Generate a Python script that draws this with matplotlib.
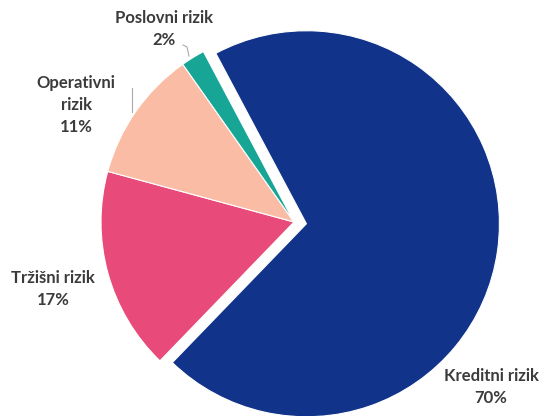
import matplotlib.pyplot as plt

labels = ['Kreditni rizik', 'Tržišni rizik', 'Operativni\nrizik', 'Poslovni rizik']
shares = [70, 17, 11, 2]
colors = ['#11338a', '#e84a7a', '#fbbca6', '#17a596']

plt.rcParams['font.family'] = ['Lato', 'DejaVu Sans']

fig = plt.figure(figsize=(5.45, 4.16), dpi=100)
ax = fig.add_axes([0, 0, 1, 1])

cx, cy, r = 294, 222, 193
# explode is in data units, so scale it with the radius
explode = [0.065 * r, 0, 0, 0]
wedges, _ = ax.pie(shares, colors=colors, explode=explode, startangle=-118,
                   counterclock=True, radius=r, center=(cx, cy),
                   wedgeprops=dict(edgecolor='white', linewidth=0.8))

ax.set_xlim(0, 545)
ax.set_ylim(416, 0)
ax.set_aspect('equal')
ax.axis('off')

# label positions (pixel coords)
pos = [(491, 387), (53, 289), (76, 105), (164, 29)]
for lab, s, (x, y) in zip(labels, shares, pos):
    ax.text(x, y, f'{lab}\n{s}%', ha='center', va='center', fontsize=12,
            fontweight='bold', color='#3b3b3b', linespacing=1.45)

# leader lines
ax.plot([132, 132], [88, 112], color='#aaaaaa', lw=0.8)
ax.plot([183, 187, 189], [45, 47, 56], color='#aaaaaa', lw=0.8)

fig.savefig('out.png', dpi=100)
